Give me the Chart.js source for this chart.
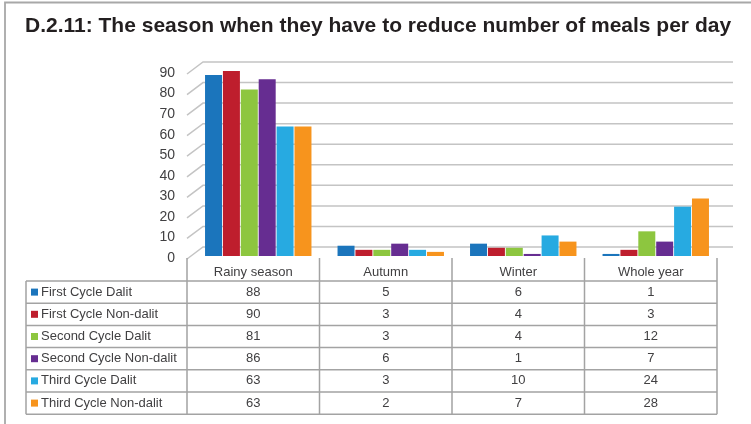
<!DOCTYPE html>
<html>
<head>
<meta charset="utf-8">
<title>D.2.11</title>
<script src="https://cdn.jsdelivr.net/npm/chart.js@4.4.1/dist/chart.umd.min.js"></script>
<style>
  html, body { margin: 0; padding: 0; background: #fff; }
  #wrap { position: relative; width: 751px; height: 424px; }
</style>
</head>
<body>
<div id="wrap"><canvas id="mealsChart" width="751" height="424"></canvas></div>
<script>
// seasons (categories) and the six survey groups
const seasons = ['Rainy season', 'Autumn', 'Winter', 'Whole year'];
const groupNames = [
  'First Cycle Dalit',
  'First Cycle Non-dalit',
  'Second Cycle Dalit',
  'Second Cycle Non-dalit',
  'Third Cycle Dalit',
  'Third Cycle Non-dalit'
];
const firstDalit = [88, 5, 6, 1];
const firstNonDalit = [90, 3, 4, 3];
const secondDalit = [81, 3, 4, 12];
const secondNonDalit = [86, 6, 1, 7];
const thirdDalit = [63, 3, 10, 24];
const thirdNonDalit = [63, 2, 7, 28];
const yTicks = [0, 10, 20, 30, 40, 50, 60, 70, 80, 90];

const groupValues = [firstDalit, firstNonDalit, secondDalit, secondNonDalit, thirdDalit, thirdNonDalit];
const groupColors = ['#1b75bc', '#be1e2d', '#8dc63f', '#662d91', '#27aae1', '#f7941d'];

const textColor = '#414042';
const font = '"Liberation Sans", Arial, sans-serif';

// back wall, y labels, title and the data table underneath
const wallAndTable = {
  id: 'wallAndTable',
  beforeDatasetsDraw(chart) {
    const { ctx, chartArea: a, scales: { y } } = chart;
    const frontL = a.left - 5;
    const frontR = a.right - 5;
    const backL = frontL + 16;
    const backR = frontR + 16;

    ctx.save();
    ctx.strokeStyle = '#c4c4c4';
    ctx.lineWidth = 1.5;
    ctx.font = '14px ' + font;
    ctx.fillStyle = textColor;
    ctx.textAlign = 'right';
    ctx.textBaseline = 'middle';
    yTicks.forEach(v => {
      const yb = y.getPixelForValue(v) - 9;
      const yf = yb + 12;
      ctx.beginPath();
      ctx.moveTo(frontL, yf);
      ctx.lineTo(backL, yb);
      ctx.lineTo(backR, yb);
      ctx.stroke();
      ctx.fillText(String(v), frontL - 12, yf - 1);
    });
    ctx.restore();
  },
  afterDraw(chart) {
    const { ctx, chartArea: a } = chart;
    const band = (a.right - a.left) / seasons.length;
    const frontL = a.left - 5;
    const frontR = a.right - 5;

    ctx.save();

    // frame
    ctx.strokeStyle = '#a8a8a8';
    ctx.lineWidth = 1.8;
    ctx.beginPath();
    ctx.moveTo(5, 430);
    ctx.lineTo(5, 2.5);
    ctx.lineTo(760, 2.5);
    ctx.stroke();

    // title
    ctx.fillStyle = '#231f20';
    ctx.font = 'bold 21px ' + font;
    ctx.textAlign = 'left';
    ctx.textBaseline = 'alphabetic';
    ctx.fillText('D.2.11: The season when they have to reduce number of meals per day', 25, 32);

    // table grid
    const headTop = 258;
    const rowTop = 281;
    const rowH = 22.2;
    const legendL = 26;
    const tableBottom = rowTop + rowH * groupNames.length;

    ctx.strokeStyle = '#a3a3a3';
    ctx.lineWidth = 1.5;
    ctx.beginPath();
    for (let i = 0; i <= seasons.length; i++) {
      const xl = frontL + i * band;
      ctx.moveTo(xl, headTop);
      ctx.lineTo(xl, tableBottom);
    }
    ctx.moveTo(legendL, rowTop);
    ctx.lineTo(legendL, tableBottom);
    for (let r = 0; r <= groupNames.length; r++) {
      const yl = rowTop + r * rowH;
      ctx.moveTo(legendL, yl);
      ctx.lineTo(frontR, yl);
    }
    ctx.stroke();

    ctx.font = '13px ' + font;
    ctx.fillStyle = textColor;
    ctx.textBaseline = 'middle';
    ctx.textAlign = 'center';
    seasons.forEach((s, i) => {
      ctx.fillText(s, frontL + (i + 0.5) * band, 272);
    });

    groupNames.forEach((name, r) => {
      const cy = rowTop + (r + 0.5) * rowH;
      ctx.fillStyle = groupColors[r];
      ctx.fillRect(31, cy - 3.5, 7, 7);
      ctx.fillStyle = textColor;
      ctx.textAlign = 'left';
      ctx.fillText(name, 41, cy);
      ctx.textAlign = 'center';
      groupValues[r].forEach((v, i) => {
        ctx.fillText(String(v), frontL + (i + 0.5) * band, cy);
      });
    });

    ctx.restore();
  }
};

new Chart(document.getElementById('mealsChart'), {
  type: 'bar',
  data: {
    labels: seasons,
    datasets: groupNames.map((name, i) => ({
      label: name,
      data: groupValues[i],
      backgroundColor: groupColors[i],
      borderWidth: 0,
      categoryPercentage: 0.81,
      barPercentage: 0.95
    }))
  },
  options: {
    responsive: false,
    animation: false,
    layout: { padding: { left: 192, right: 29, top: 71, bottom: 168 } },
    scales: {
      x: { display: false },
      y: { display: false, min: 0, max: 90 }
    },
    plugins: {
      legend: { display: false },
      tooltip: { enabled: false },
      title: { display: false }
    }
  },
  plugins: [wallAndTable]
});
</script>
</body>
</html>
